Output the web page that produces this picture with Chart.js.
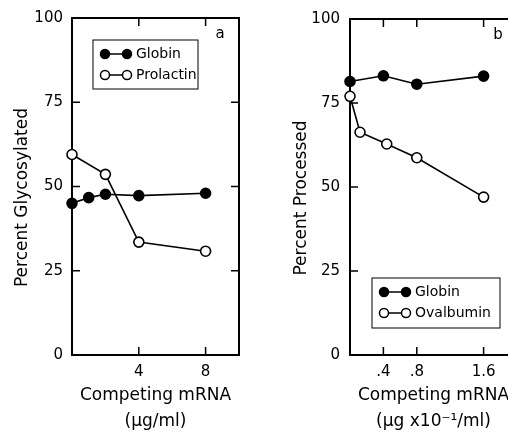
<!DOCTYPE html>
<html>
<head>
<meta charset="utf-8">
<script src="https://cdn.jsdelivr.net/npm/chart.js@4.4.1/dist/chart.umd.min.js"></script>
<style>
  html, body { margin: 0; padding: 0; background: #fff; overflow: hidden; }
  #wrap { position: relative; width: 508px; height: 435px; overflow: hidden; }
  .panel { position: absolute; top: 0; height: 435px; }
  #pa { left: 0; width: 254px; }
  #pb { left: 254px; width: 276px; }
</style>
</head>
<body>
<div id="wrap">
  <div class="panel" id="pa"><canvas id="chart-a"></canvas></div>
  <div class="panel" id="pb"><canvas id="chart-b"></canvas></div>
</div>
<script>
// panel a
const aGlobinX = [0, 1, 2, 4, 8]
const aGlobinY = [45, 46.7, 47.7, 47.3, 48]
const aProlactinX = [0, 2, 4, 8]
const aProlactinY = [59.5, 53.6, 33.5, 30.8]
const aTicks = [4, 8]
const aTickLabels = ['4', '8']

// panel b
const bGlobinX = [0, 0.4, 0.8, 1.6]
const bGlobinY = [81.4, 83.1, 80.6, 83]
const bOvalbuminX = [0, 0.12, 0.44, 0.8, 1.6]
const bOvalbuminY = [77, 66.3, 62.8, 58.7, 47]
const bTicks = [0.4, 0.8, 1.6]
const bTickLabels = ['.4', '.8', '1.6']

const yTicks = [0, 25, 50, 75, 100]

const FONT = 'DejaVu Sans'

function points(xs, ys) {
  return xs.map((x, i) => ({ x, y: ys[i] }))
}

function series(label, xs, ys, filled) {
  return {
    label,
    data: points(xs, ys),
    showLine: true,
    borderColor: '#000',
    borderWidth: 1.6,
    pointRadius: 5,
    pointBorderWidth: 1.6,
    pointBorderColor: '#000',
    pointBackgroundColor: filled ? '#000' : '#fff',
    clip: false
  }
}

// box round the plot, ticks pointing inward
const framePlugin = {
  id: 'frame',
  beforeDatasetsDraw(chart) {
    const { ctx, chartArea: a, scales: { x, y } } = chart
    const len = 8
    ctx.save()
    ctx.strokeStyle = '#000'
    ctx.lineWidth = 2
    ctx.strokeRect(a.left, a.top, a.right - a.left, a.bottom - a.top)
    ctx.lineWidth = 1.5
    ctx.beginPath()
    x.ticks.forEach(t => {
      const px = x.getPixelForValue(t.value)
      ctx.moveTo(px, a.bottom); ctx.lineTo(px, a.bottom - len)
      ctx.moveTo(px, a.top); ctx.lineTo(px, a.top + len)
    })
    y.ticks.forEach(t => {
      if (t.value <= y.min || t.value >= y.max) return
      const py = y.getPixelForValue(t.value)
      ctx.moveTo(a.left, py); ctx.lineTo(a.left + len, py)
      ctx.moveTo(a.right, py); ctx.lineTo(a.right - len, py)
    })
    ctx.stroke()
    ctx.restore()
  }
}

// boxed legend, panel letter, y title
const annotPlugin = {
  id: 'annot',
  afterDraw(chart, args, opts) {
    const { ctx, chartArea: a } = chart
    ctx.save()
    const bx = a.left + opts.box.x
    const by = a.top + opts.box.y
    ctx.strokeStyle = '#000'
    ctx.lineWidth = 1
    ctx.strokeRect(bx, by, opts.box.w, opts.box.h)
    chart.data.datasets.forEach((ds, i) => {
      const cy = by + 14 + i * 21
      ctx.lineWidth = 1.5
      ctx.beginPath()
      ctx.moveTo(bx + 12, cy); ctx.lineTo(bx + 34, cy)
      ctx.stroke()
      ;[bx + 12, bx + 34].forEach(cx => {
        ctx.beginPath()
        ctx.arc(cx, cy, 4.5, 0, Math.PI * 2)
        ctx.fillStyle = ds.pointBackgroundColor
        ctx.fill()
        ctx.stroke()
      })
      ctx.fillStyle = '#000'
      ctx.font = `14px "${FONT}"`
      ctx.textBaseline = 'middle'
      ctx.textAlign = 'left'
      ctx.fillText(ds.label, bx + 43, cy)
    })
    ctx.font = `15px "${FONT}"`
    ctx.textAlign = 'center'
    ctx.fillText(opts.letter, a.right - 19, a.top + 16)

    ctx.font = `17px "${FONT}"`
    ctx.translate(a.left + opts.yTitleDx, (a.top + a.bottom) / 2 + 11)
    ctx.rotate(-Math.PI / 2)
    ctx.fillText(opts.yTitle, 0, 0)
    ctx.restore()
  }
}

function makeChart(id, datasets, p) {
  return new Chart(document.getElementById(id).getContext('2d'), {
    type: 'scatter',
    data: { datasets },
    plugins: [framePlugin, annotPlugin],
    options: {
      responsive: true,
      maintainAspectRatio: false,
      animation: false,
      events: [],
      layout: { padding: { top: 17, right: p.padRight, left: 0, bottom: 0 } },
      plugins: {
        legend: { display: false },
        tooltip: { enabled: false },
        annot: { box: p.box, letter: p.letter, yTitle: p.yTitle, yTitleDx: p.yTitleDx }
      },
      scales: {
        x: {
          type: 'linear',
          min: 0,
          max: p.xMax,
          grid: { display: false, drawTicks: false },
          border: { display: false },
          afterBuildTicks: s => { s.ticks = p.xTicks.map(v => ({ value: v })) },
          afterFit: s => { s.height = 80 },
          ticks: {
            padding: 8,
            color: '#000',
            maxRotation: 0,
            autoSkip: false,
            font: { family: FONT, size: 15 },
            callback: (v, i) => p.xLabels[i]
          },
          title: {
            display: true,
            text: p.xTitle,
            color: '#000',
            font: { family: FONT, size: 17, lineHeight: '26px' },
            padding: { top: 0, bottom: 0 }
          }
        },
        y: {
          min: 0,
          max: 100,
          grid: { display: false, drawTicks: false },
          border: { display: false },
          afterBuildTicks: s => { s.ticks = yTicks.map(v => ({ value: v })) },
          afterFit: s => { s.width = p.axisWidth },
          ticks: {
            padding: p.yPad,
            color: '#000',
            font: { family: FONT, size: 15 }
          }
        }
      }
    }
  })
}

makeChart('chart-a', [
  series('Globin', aGlobinX, aGlobinY, true),
  series('Prolactin', aProlactinX, aProlactinY, false)
], {
  xMax: 10, xTicks: aTicks, xLabels: aTickLabels,
  xTitle: ['Competing mRNA', '(\u00b5g/ml)'],
  yTitle: 'Percent Glycosylated', yTitleDx: -49,
  axisWidth: 72, padRight: 15, yPad: 9,
  box: { x: 21, y: 22, w: 105, h: 49 }, letter: 'a'
})

makeChart('chart-b', [
  series('Globin', bGlobinX, bGlobinY, true),
  series('Ovalbumin', bOvalbuminX, bOvalbuminY, false)
], {
  xMax: 2, xTicks: bTicks, xLabels: bTickLabels,
  xTitle: ['Competing mRNA', '(\u00b5g x10\u207b\u00b9/ml)'],
  yTitle: 'Percent Processed', yTitleDx: -48,
  axisWidth: 96, padRight: 13, yPad: 10,
  box: { x: 22, y: 259, w: 128, h: 50 }, letter: 'b'
})
</script>
</body>
</html>
